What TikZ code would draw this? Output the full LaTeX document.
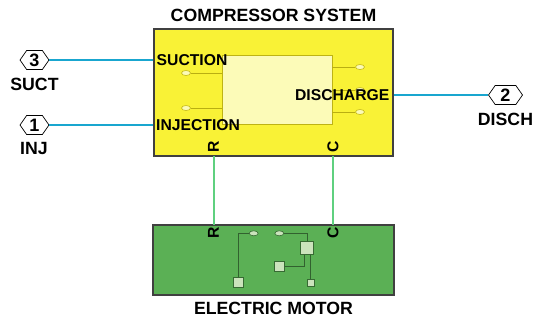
\documentclass[tikz,border=0pt]{standalone}
\usepackage{fontspec}
\setmainfont{Liberation Sans}
\usetikzlibrary{shapes.symbols,shapes.geometric,calc}
\definecolor{yel}{HTML}{F9F236}
\definecolor{pale}{HTML}{FCFBB8}
\definecolor{grn}{HTML}{5BB055}
\definecolor{paleg}{HTML}{CBE3BC}
\definecolor{cyn}{HTML}{19A6CF}
\definecolor{lgr}{HTML}{5FD07F}
\tikzset{
 every node/.style={font=\bfseries\fontsize{15.7}{17}\selectfont,inner sep=0pt,text=black},
 outer/.style={font=\bfseries\fontsize{17.7}{19}\selectfont},
 port/.style={draw=black,line width=.7pt,fill=white,signal,signal to=west and east,signal pointer angle=110,minimum width=29pt,minimum height=19pt,font=\bfseries\fontsize{18}{19}\selectfont},
 wirec/.style={cyn,line width=1.4pt},
 wireg/.style={lgr,line width=1.4pt},
 block/.style={draw=black!75,line width=1.2pt},
 pin/.style={draw=olive!50!yel,fill=pale,ellipse,line width=.6pt,minimum width=9pt,minimum height=5pt},
 ipin/.style={draw=olive!60!yel,line width=.9pt},
 mpin/.style={draw=grn!60!black,fill=paleg,ellipse,line width=.6pt,minimum width=9pt,minimum height=5pt},
 msq/.style={draw=grn!60!black,fill=paleg,line width=.8pt,minimum size=#1},
 mline/.style={draw=grn!55!black,line width=.9pt},
}
\begin{document}
\begin{tikzpicture}[x=1pt,y=-1pt]
\useasboundingbox (0,0) rectangle (533,322);
\node[block,fill=yel,minimum width=239pt,minimum height=127pt] (comp) at (273.5,92.5) {};
\node[draw=olive!55!yel,line width=.8pt,fill=pale,minimum width=109.5pt,minimum height=68.5pt] (inner) at (277.25,89.75) {};
\node[block,fill=grn,minimum width=241pt,minimum height=70pt] (motor) at (273.5,260) {};
\node[outer] (title) at (273.5,15.5) {COMPRESSOR SYSTEM};
\node[outer] (mtitle) at (273.5,308) {ELECTRIC MOTOR};
% compressor pins
\node[pin] (p1) at (186,73) {};
\node[pin] (p2) at (186,108) {};
\node[pin] (p3) at (360,67) {};
\node[pin] (p4) at (360,90) {};
\node[pin] (p5) at (360,112) {};
\draw[ipin] (p1) -- (p1 -| inner.west);
\draw[ipin] (p2) -- (p2 -| inner.west);
\draw[ipin] (p3) -- (p3 -| inner.east);
\draw[ipin] (p4) -- (p4 -| inner.east);
\draw[ipin] (p5) -- (p5 -| inner.east);
% labels
\node[anchor=west] (suc) at (156.5,60) {SUCTION};
\node[anchor=west] (inj) at (156,125) {INJECTION};
\node[anchor=east] (dis) at (389.5,95) {DISCHARGE};
\node[rotate=90] (r1) at (213.5,146.5) {R};
\node[rotate=90] (c1) at (333,146.5) {C};
\node[rotate=90] (r2) at (213.5,233) {R};
\node[rotate=90] (c2) at (333,233) {C};
% ports
\node[port] (in3) at (34.5,60) {3};
\node[port] (in1) at (34.5,125) {1};
\node[port,minimum width=34pt] (out2) at (505.5,95) {2};
\node[outer] (lsuct) at (34.5,84.5) {SUCT};
\node[outer] (linj) at (34,148) {INJ};
\node[outer] (ldisch) at (505.5,119) {DISCH};
\draw[wirec] (in3.east) -- (in3.east -| comp.west);
\draw[wirec] (in1.east) -- (in1.east -| comp.west);
\draw[wirec] (out2.west) -- (out2.west -| comp.east);
\coordinate (ra) at (214,156); \coordinate (rb) at (214,225);
\coordinate (ca) at (333,156); \coordinate (cb) at (333,225);
\draw[wireg] (ra) -- (rb);
\draw[wireg] (ca) -- (cb);
% motor internals
\node[mpin] (m1) at (253.7,233.3) {};
\node[mpin] (m2) at (279.3,233.3) {};
\node[msq=13pt] (s1) at (307.3,248.3) {};
\node[msq=10pt] (s2) at (279.3,266.3) {};
\node[msq=10pt] (s3) at (238.7,282.7) {};
\node[msq=6.5pt] (s4) at (310.7,283) {};
\draw[mline] (m1.west) -| (s3.north);
\draw[mline] (m2.east) -| (s1.north);
\coordinate (j) at (304,255);
\draw[mline] (s2.east) -| (j);
\draw[mline] (s4.north) -- (s4.north |- s1.south);
\end{tikzpicture}
\end{document}
